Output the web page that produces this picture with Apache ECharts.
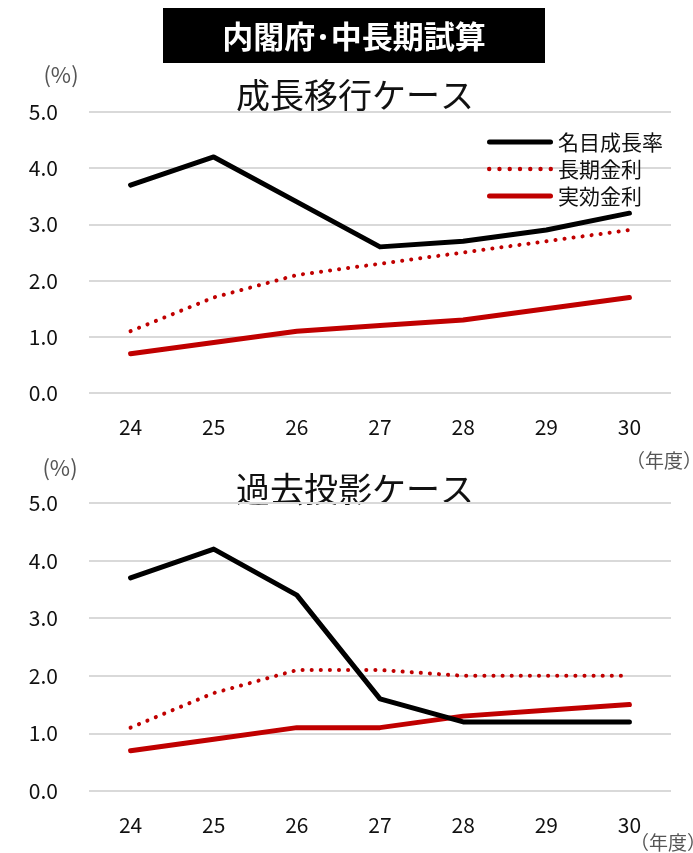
<!DOCTYPE html>
<html>
<head>
<meta charset="utf-8">
<script src="https://cdn.jsdelivr.net/npm/echarts@6/dist/echarts.min.js"></script>
<style>
html,body{margin:0;padding:0;background:#fff;}
#c{width:693px;height:853px;}
</style>
</head>
<body>
<div id="c"></div>
<script>
var years = ['24','25','26','27','28','29','30'];
var seriesNames = ['名目成長率','長期金利','実効金利'];
var yTicks = [0,1,2,3,4,5];

// 成長移行ケース
var growthNominal = [3.7, 4.2, 3.4, 2.6, 2.7, 2.9, 3.2];
var growthLongRate = [1.1, 1.7, 2.1, 2.3, 2.5, 2.7, 2.9];
var growthEffRate = [0.7, 0.9, 1.1, 1.2, 1.3, 1.5, 1.7];

// 過去投影ケース
var pastNominal = [3.7, 4.2, 3.4, 1.6, 1.2, 1.2, 1.2];
var pastLongRate = [1.1, 1.7, 2.1, 2.1, 2.0, 2.0, 2.0];
var pastEffRate = [0.7, 0.9, 1.1, 1.1, 1.3, 1.4, 1.5];

var FONT = '"Noto Sans CJK JP", "Noto Sans", sans-serif';
var RED = '#C00000';

// legend icons (shapes only)
var solidIcon = 'path://M2.5,0H63.5A2.5,2.5 0 0 1 63.5,5H2.5A2.5,2.5 0 0 1 2.5,0Z';
var dotIcon = (function(){
  var p = 'path://';
  for (var i = 0; i < 7; i++) {
    var cx = 2.5 + i * 10.2;
    p += 'M' + (cx - 2.2) + ',2.5A2.2,2.2 0 1 0 ' + (cx + 2.2) + ',2.5A2.2,2.2 0 1 0 ' + (cx - 2.2) + ',2.5Z';
  }
  return p;
})();

function xAxisCfg(idx){
  return {
    type:'category', gridIndex:idx, data:years, boundaryGap:true,
    axisLine:{show:false}, axisTick:{show:false},
    axisLabel:{fontSize:21, color:'#111', margin:24, fontFamily:FONT}
  };
}
function yAxisCfg(idx){
  return {
    type:'value', gridIndex:idx, min:yTicks[0], max:yTicks[yTicks.length-1], interval:1,
    axisLine:{show:false}, axisTick:{show:false},
    axisLabel:{fontSize:21, color:'#111', margin:31, fontFamily:FONT,
      formatter:function(v){return v.toFixed(1);}},
    splitLine:{lineStyle:{color:'#d9d9d9', width:2}}
  };
}
function seriesSet(idx, nominal, longRate, eff){
  return [
    {name:seriesNames[0], type:'line', xAxisIndex:idx, yAxisIndex:idx, data:nominal,
     symbol:'none', lineStyle:{color:'#000', width:5, cap:'round', join:'round'}, itemStyle:{color:'#000'}, z:3},
    {name:seriesNames[1], type:'line', xAxisIndex:idx, yAxisIndex:idx, data:longRate,
     symbol:'none', lineStyle:{color:RED, width:4, type:[0.1, 9], cap:'round'}, itemStyle:{color:RED}, z:2},
    {name:seriesNames[2], type:'line', xAxisIndex:idx, yAxisIndex:idx, data:eff,
     symbol:'none', lineStyle:{color:RED, width:5, cap:'round', join:'round'}, itemStyle:{color:RED}, z:2}
  ];
}

var chart = echarts.init(document.getElementById('c'), null, {renderer:'canvas'});
chart.setOption({
  animation:false,
  textStyle:{fontFamily:FONT},
  grid:[
    {left:89, right:22, top:112, height:281},
    {left:89, right:22, top:503, height:288}
  ],
  xAxis:[xAxisCfg(0), xAxisCfg(1)],
  yAxis:[yAxisCfg(0), yAxisCfg(1)],
  legend:{
    show:true, left:482, top:125, orient:'vertical', itemWidth:66, itemHeight:5, itemGap:3,
    data:[
      {name:seriesNames[0], icon:solidIcon},
      {name:seriesNames[1], icon:dotIcon},
      {name:seriesNames[2], icon:solidIcon}
    ],
    textStyle:{fontSize:21, lineHeight:24, color:'#111', fontFamily:FONT}
  },
  graphic:[
    {type:'rect', shape:{x:163, y:8, width:382, height:55}, style:{fill:'#000'}},
    {type:'text', x:354, y:36, style:{text:'内閣府･中長期試算', fill:'#fff', font:'bold 31px '+FONT, textAlign:'center', textVerticalAlign:'middle'}},
    {type:'text', x:355, y:95, style:{text:'成長移行ケース', fill:'#111', font:'34px '+FONT, textAlign:'center', textVerticalAlign:'middle'}},
    {type:'text', x:355, y:489, style:{text:'過去投影ケース', fill:'#111', font:'34px '+FONT, textAlign:'center', textVerticalAlign:'middle'}},
    {type:'text', x:61, y:75, style:{text:'(%)', fill:'#555', font:'22px '+FONT, textAlign:'center', textVerticalAlign:'middle'}},
    {type:'text', x:60, y:468, style:{text:'(%)', fill:'#555', font:'22px '+FONT, textAlign:'center', textVerticalAlign:'middle'}},
    {type:'text', x:626, y:461, style:{text:'（年度）', fill:'#555', font:'19px '+FONT, textAlign:'left', textVerticalAlign:'middle'}},
    {type:'text', x:630, y:843, style:{text:'（年度）', fill:'#555', font:'19px '+FONT, textAlign:'left', textVerticalAlign:'middle'}}
  ],
  series:[].concat(seriesSet(0, growthNominal, growthLongRate, growthEffRate), seriesSet(1, pastNominal, pastLongRate, pastEffRate))
});
</script>
</body>
</html>
